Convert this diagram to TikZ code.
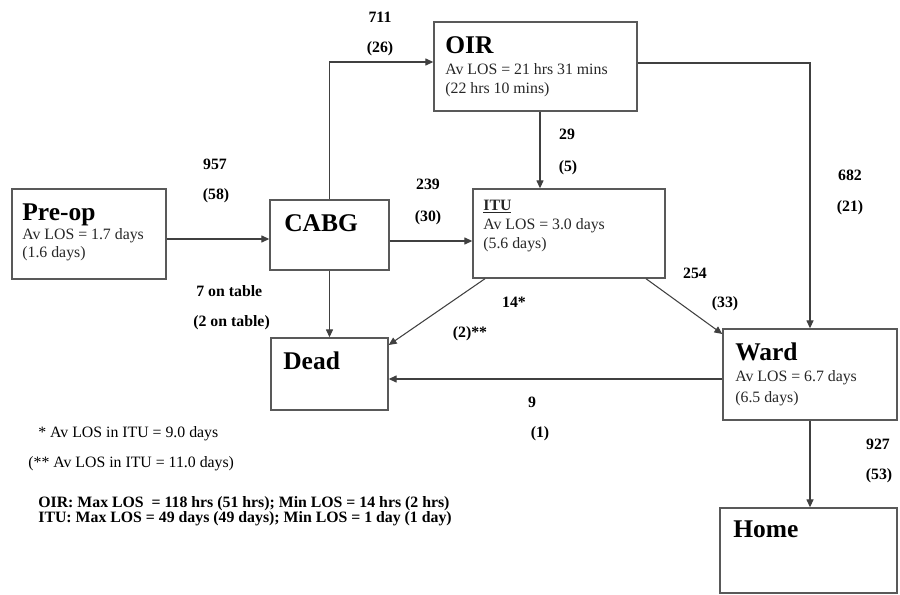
\documentclass[tikz,border=0pt]{standalone}
\usepackage{fontspec}
\setmainfont{Liberation Serif}
\usetikzlibrary{arrows.meta,fit,calc}
\tikzset{
  unitbox/.style={draw=black!65, line width=0.8pt, inner sep=0pt},
  flow/.style={-{Triangle[length=4.5pt,width=4pt]}, black!75, line width=0.6pt},
  unitname/.style={anchor=base west, inner sep=0pt, font=\fontsize{14.5}{17}\selectfont\bfseries},
  los/.style={anchor=base west, inner sep=0pt, font=\fontsize{9}{11}\selectfont, text=black!85},
  count/.style={anchor=base, inner sep=0pt, font=\fontsize{9}{11}\selectfont\bfseries},
  note/.style={anchor=base west, inner sep=0pt, font=\fontsize{9}{11}\selectfont}
}

\begin{document}
\begin{tikzpicture}[x=0.02cm, y=-0.02cm]
\useasboundingbox (0,0) rectangle (900,595);

% units
\node[unitbox, fit={(12,189) (166,279)}] (preop) {};
\node[unitbox, fit={(270,200) (389,270)}] (cabg) {};
\node[unitbox, fit={(434,22) (637,111)}] (oir) {};
\node[unitbox, fit={(473,189) (665,278)}] (itu) {};
\node[unitbox, fit={(271,338) (388,410)}] (dead) {};
\node[unitbox, fit={(723,329) (897,420)}] (ward) {};
\node[unitbox, fit={(720,508) (897,593)}] (home) {};

% unit texts
\node[unitname] (preop-name) at (22,220) {Pre-op};
\node[los] (preop-av) at (22,239) {Av LOS = 1.7 days};
\node[los] (preop-med) at (22,257) {(1.6 days)};

\node[unitname] (cabg-name) at (284,231) {CABG};

\node[unitname] (oir-name) at (445,53) {OIR};
\node[los] (oir-av) at (445,74) {Av LOS = 21 hrs 31 mins};
\node[los] (oir-med) at (445,93) {(22 hrs 10 mins)};

\node[los, font=\fontsize{9}{11}\selectfont\bfseries] (itu-name) at (483,210) {\underline{ITU}};
\node[los] (itu-av) at (483,229) {Av LOS = 3.0 days};
\node[los] (itu-med) at (483,248) {(5.6 days)};

\node[unitname] (dead-name) at (283,369) {Dead};

\node[unitname] (ward-name) at (735,360) {Ward};
\node[los] (ward-av) at (735,381) {Av LOS = 6.7 days};
\node[los] (ward-med) at (735,402) {(6.5 days)};

\node[unitname] (home-name) at (733,537) {Home};

% flows
\draw[flow] (preop.east |- 0,239) -- (cabg.west |- 0,239);
\draw[flow] (cabg.north) |- (oir.west |- 0,62);
\draw[flow] (cabg.east |- 0,241) -- (itu.west |- 0,241);
\draw[flow] (cabg.south) -- (dead.north);
\draw[flow] (oir.south -| 540,0) -- (itu.north -| 540,0);
\draw[flow] (oir.east |- 0,63) -| (ward.north);
\draw[flow] (itu.south -| 485,0) -- (dead.east |- 0,345);
\draw[flow] (itu.south -| 646,0) -- (ward.west |- 0,334);
\draw[flow] (ward.west |- 0,379) -- (dead.east |- 0,379);
\draw[flow] (ward.south) -- (ward.south |- home.north);

% patient numbers
\node[count] (n711) at (380,22) {711};
\node[count] (n711b) at (380,52) {(26)};
\node[count] (n957) at (215,169) {957};
\node[count] (n957b) at (216,199) {(58)};
\node[count] (n239) at (428,189) {239};
\node[count] (n239b) at (428,221) {(30)};
\node[count] (n29) at (567,139) {29};
\node[count] (n29b) at (568,171) {(5)};
\node[count] (n682) at (850,180) {682};
\node[count] (n682b) at (850,211) {(21)};
\node[count, anchor=base west] (ntable) at (196,296) {7 on table};
\node[count, anchor=base west] (ntableb) at (193,326) {(2 on table)};
\node[count] (n14) at (514,307) {14*};
\node[count] (n14b) at (470,337) {(2)**};
\node[count] (n254) at (695,278) {254};
\node[count] (n254b) at (725,307) {(33)};
\node[count] (n9) at (532,407) {9};
\node[count] (n9b) at (540,437) {(1)};
\node[count] (n927) at (878,449) {927};
\node[count] (n927b) at (879,479) {(53)};

% footnotes
\node[note] (fn1) at (38,437) {* Av LOS in ITU = 9.0 days};
\node[note] (fn2) at (28,467) {(** Av LOS in ITU = 11.0 days)};
\node[note, font=\fontsize{9}{11}\selectfont\bfseries] (fn3) at (38,507) {OIR: Max LOS\ \ = 118 hrs (51 hrs); Min LOS = 14 hrs (2 hrs)};
\node[note, font=\fontsize{9}{11}\selectfont\bfseries] (fn4) at (38,522) {ITU: Max LOS = 49 days (49 days); Min LOS = 1 day (1 day)};

\end{tikzpicture}
\end{document}
